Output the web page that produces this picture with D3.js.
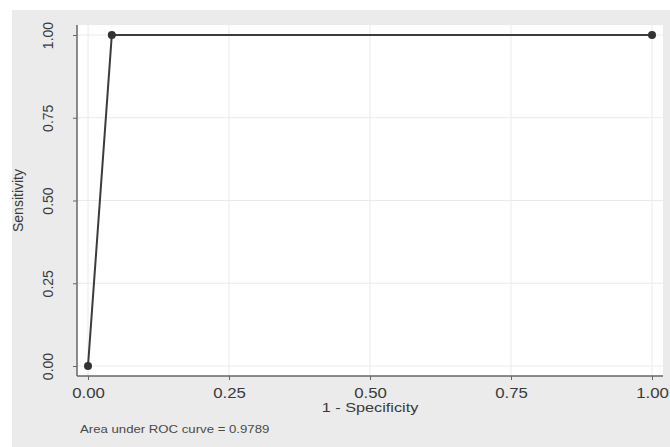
<!DOCTYPE html>
<html>
<head>
<meta charset="utf-8">
<script src="https://cdn.jsdelivr.net/npm/d3@7"></script>
<style>
  body { margin: 0; background: #fff; }
  svg { display: block; font-family: "Liberation Sans", Arial, sans-serif; }
  .grid line { stroke: #eaeaea; }
  .axis path, .axis line { stroke: #666; }
  .axis text { fill: #3a3a3a; font-size: 14px; }
</style>
</head>
<body>
<div id="chart"></div>
<script>
// ROC points: 1 - specificity vs sensitivity
const fpr = [0, 0.0422, 1];
const tpr = [0, 1, 1];
const tickValues = [0, 0.25, 0.5, 0.75, 1];
const aucLabel = 'Area under ROC curve = 0.9789';

const width = 670, height = 447;
const margin = {t: 25, r: 7, b: 71, l: 77};
const w = width - margin.l - margin.r;
const h = height - margin.t - margin.b;

// the reference is stretched sideways a bit, so horizontal text gets widened
const stretch = 1.2;

const svg = d3.select('#chart').append('svg')
    .attr('width', width)
    .attr('height', height);

// outer gray panel
svg.append('rect')
    .attr('x', 12).attr('y', 10)
    .attr('width', width - 12).attr('height', height - 10)
    .attr('fill', '#ebebeb');

// plot region
svg.append('rect')
    .attr('x', margin.l).attr('y', margin.t)
    .attr('width', w).attr('height', h)
    .attr('fill', '#fff');

const plot = svg.append('g')
    .attr('transform', `translate(${margin.l},${margin.t})`);

const scaleX = d3.scaleLinear().domain([0, 1]).range([11, 575]);
const scaleY = d3.scaleLinear().domain([0, 1]).range([341, 10]);

// gridlines
const grid = plot.append('g').attr('class', 'grid');
grid.selectAll('.gx').data(tickValues).enter().append('line')
    .attr('x1', d => scaleX(d)).attr('x2', d => scaleX(d))
    .attr('y1', 0).attr('y2', h);
grid.selectAll('.gy').data(tickValues).enter().append('line')
    .attr('x1', 0).attr('x2', w)
    .attr('y1', d => scaleY(d)).attr('y2', d => scaleY(d));

// axes
const axisX = d3.axisBottom(scaleX)
    .tickValues(tickValues)
    .tickFormat(d3.format('.2f'))
    .tickSize(4)
    .tickPadding(8);
const axisY = d3.axisLeft(scaleY)
    .tickValues(tickValues)
    .tickFormat(d3.format('.2f'))
    .tickSize(4);

const axisXNode = plot.append('g')
    .attr('class', 'axis axis-x')
    .attr('transform', `translate(0,${h})`)
    .call(axisX);
axisXNode.select('.domain').attr('d', `M0,0H${w}`).attr('stroke-width', 1.5);
axisXNode.selectAll('text').attr('transform', `scale(${stretch},1)`);

const axisYNode = plot.append('g')
    .attr('class', 'axis axis-y')
    .call(axisY);
axisYNode.select('.domain').attr('d', `M0,0V${h}`).attr('stroke-width', 1.5);
axisYNode.selectAll('text')
    .attr('x', 0)
    .attr('y', 0)
    .attr('dy', 0)
    .attr('text-anchor', 'middle')
    .attr('transform', 'translate(-24,0) rotate(-90)');

// axis titles
svg.append('text')
    .attr('transform', `translate(${margin.l + scaleX(0.5)},412) scale(1.25,1)`)
    .attr('text-anchor', 'middle')
    .attr('fill', '#3a3a3a')
    .attr('font-size', 13)
    .text('1 - Specificity');

svg.append('text')
    .attr('transform', `translate(23,${margin.t + scaleY(0.5)}) rotate(-90)`)
    .attr('text-anchor', 'middle')
    .attr('fill', '#3a3a3a')
    .attr('font-size', 14)
    .text('Sensitivity');

svg.append('text')
    .attr('transform', `translate(80,433) scale(1.2,1)`)
    .attr('fill', '#4a4a4a')
    .attr('font-size', 11)
    .text(aucLabel);

// ROC curve
const rocData = fpr.map((d, i) => ({x: d, y: tpr[i]}));
plot.append('path')
    .datum(rocData)
    .attr('fill', 'none')
    .attr('stroke', '#3c3c3c')
    .attr('stroke-width', 2)
    .attr('d', d3.line().x(d => scaleX(d.x)).y(d => scaleY(d.y)));

plot.selectAll('.pt').data(rocData).enter().append('circle')
    .attr('class', 'pt')
    .attr('cx', d => scaleX(d.x))
    .attr('cy', d => scaleY(d.y))
    .attr('r', 4)
    .attr('fill', '#333');
</script>
</body>
</html>
